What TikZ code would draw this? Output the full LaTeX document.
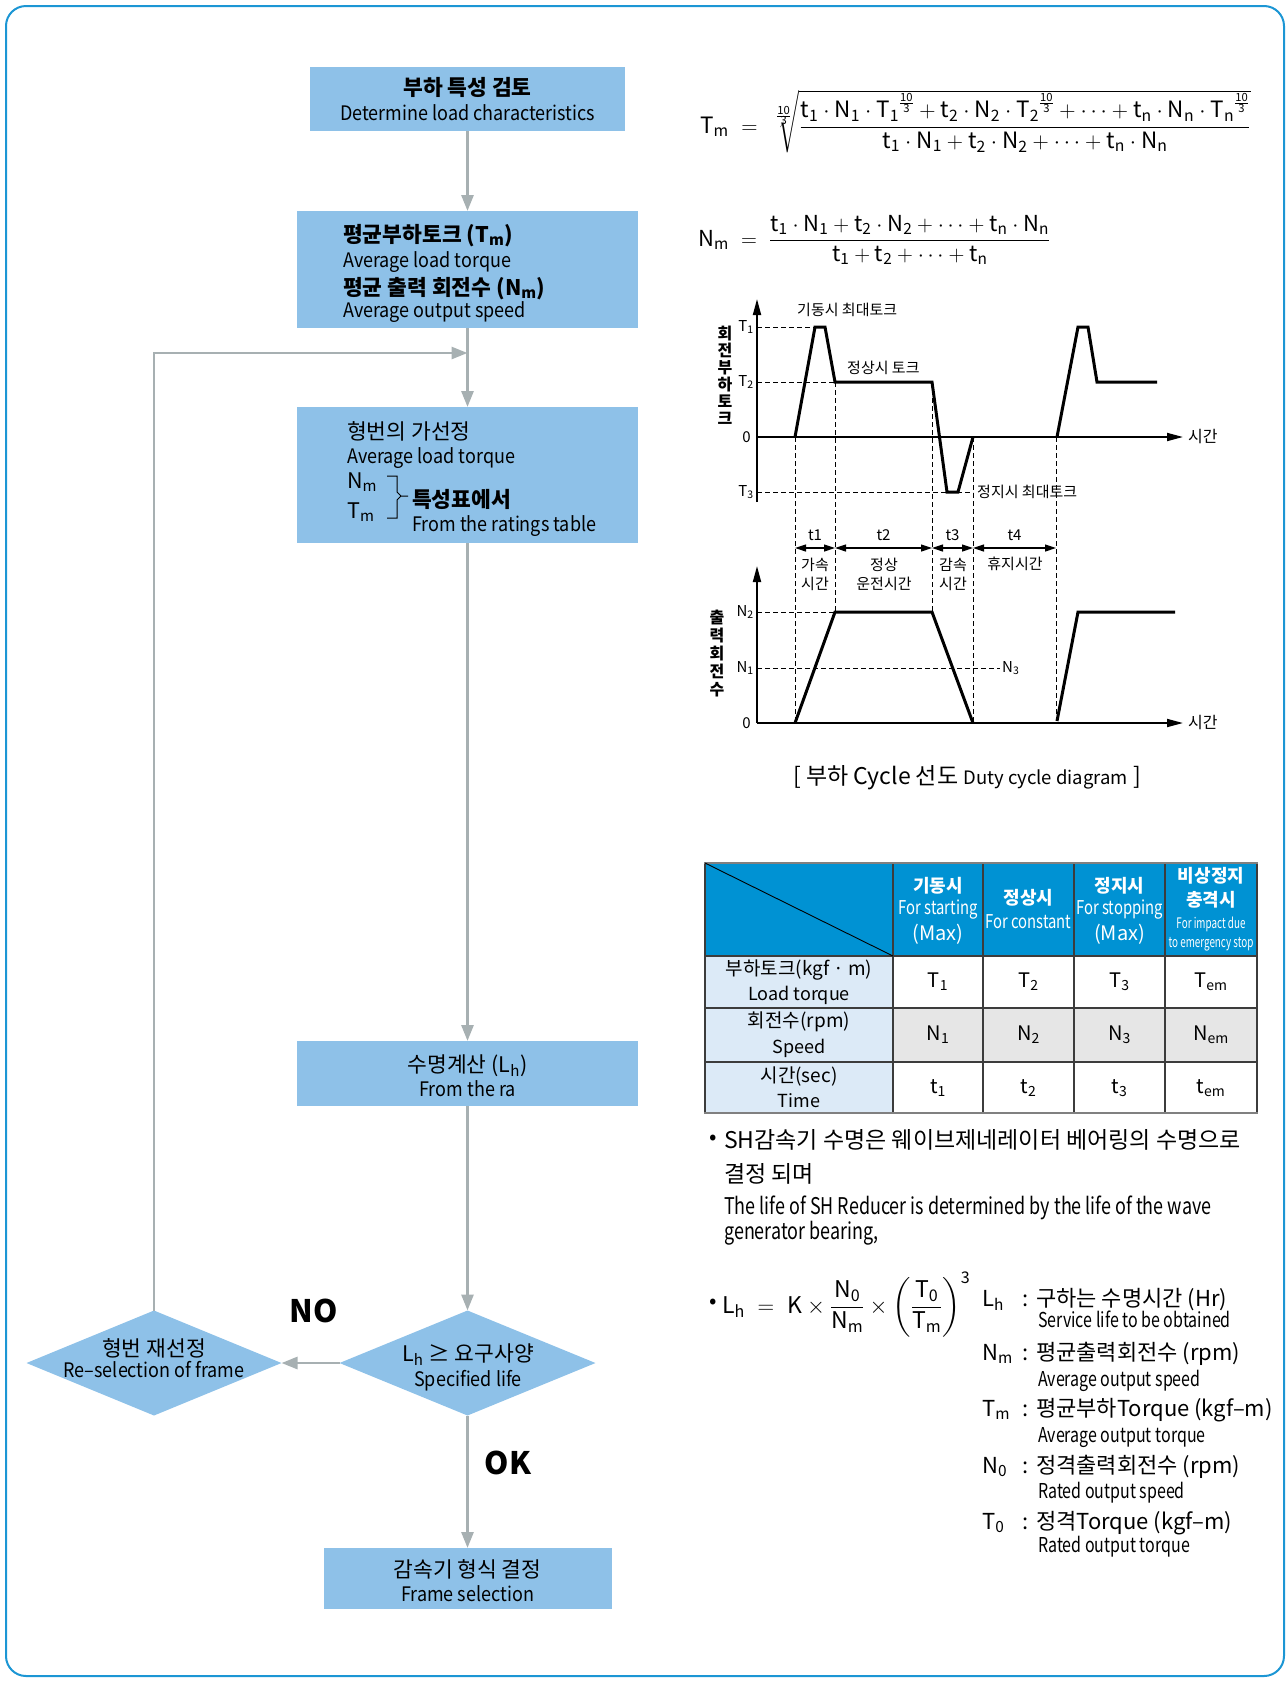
\documentclass[tikz,border=0pt]{standalone}
\usepackage{fix-cm}
\usepackage{amsmath}
\usepackage{fontspec}
\setmainfont{Noto Sans CJK KR}
\newfontfamily\mnar[FakeStretch=0.9]{Noto Sans CJK KR}
\newfontfamily\nar[FakeStretch=0.78]{Noto Sans CJK KR}
\newfontfamily\nnar[FakeStretch=0.68]{Noto Sans CJK KR}
\usetikzlibrary{positioning,arrows.meta,shapes.geometric,calc}
\definecolor{boxblue}{RGB}{142,193,232}
\definecolor{flowgray}{RGB}{167,176,178}
\definecolor{framecyan}{RGB}{28,150,212}
\definecolor{headblue}{RGB}{0,146,211}
\definecolor{rowblue}{RGB}{220,234,247}
\definecolor{rowgray}{RGB}{230,230,230}
\definecolor{gridgray}{RGB}{60,60,60}
\newcommand\fsz[1]{\fontsize{#1}{#1}\selectfont}
\newcommand\vsub[2]{\text{#1}_{\text{#2}}}
\newcommand\tenth{\frac{\text{10}}{\text{3}}}
\tikzset{
  flowbox/.style={rectangle, fill=boxblue, inner sep=0pt, outer sep=0pt},
  decision/.style={diamond, fill=boxblue, inner sep=0pt, outer sep=0pt},
  flowarrow/.style={draw=flowgray, line width=2.8pt, -{Triangle[length=16pt,width=12pt]}},
  ktitle/.style={font=\bfseries\fsz{21.5}, inner sep=0pt},
  kplain/.style={font=\fsz{21.5}, inner sep=0pt},
  etext/.style={font=\mnar\fsz{20}, inner sep=0pt},
  axisline/.style={line width=1.8pt, -{Triangle[length=16pt,width=8pt]}},
  curveline/.style={line width=3pt, line join=miter},
  guide/.style={line width=0.9pt, dash pattern=on 5pt off 3pt},
  span/.style={line width=1.2pt, {Triangle[length=11pt,width=7pt]}-{Triangle[length=11pt,width=7pt]}},
  glabel/.style={font=\fsz{15}, inner sep=0pt},
  cell/.style={font=\fsz{20}, inner sep=0pt},
  head/.style={text=white, inner sep=0pt}
}
\begin{document}
\begin{tikzpicture}[x=1pt,y=-1pt]
\useasboundingbox (0,0) rectangle (1287,1682);
\draw[framecyan, line width=2pt, rounded corners=20pt] (6,6) rectangle (1284,1676);

% flow chart
\node[flowbox, minimum width=315pt, minimum height=64pt] (load) at (467.5,99) {};
\node[flowbox, minimum width=341pt, minimum height=117pt] (avg) at (467.5,269.5) {};
\node[flowbox, minimum width=341pt, minimum height=136pt] (pre) at (467.5,475) {};
\node[flowbox, minimum width=341pt, minimum height=65pt] (life) at (467.5,1073.5) {};
\node[decision, minimum width=256pt, minimum height=105pt] (check) at (467.5,1363) {};
\node[decision, minimum width=255pt, minimum height=105pt] (resel) at (154,1363) {};
\node[flowbox, minimum width=288pt, minimum height=61pt] (frame) at (467.5,1578.5) {};
\coordinate (join) at (467.5,353);

\node[ktitle, anchor=base] at (467.5,95) {부하 특성 검토};
\node[etext, anchor=base] at (467.5,120) {Determine load characteristics};

\node[ktitle, anchor=base west] at (343,242) {평균부하토크 (T\textsubscript{m})};
\node[etext, anchor=base west] at (343,267) {Average load torque};
\node[ktitle, anchor=base west] at (343,295) {평균 출력 회전수 (N\textsubscript{m})};
\node[etext, anchor=base west] at (343,317) {Average output speed};

\node[kplain, anchor=base west] at (347,439) {형번의 가선정};
\node[etext, anchor=base west] at (347,463) {Average load torque};
\node[kplain, anchor=base west] at (347,488) {N\textsubscript{m}};
\node[kplain, anchor=base west] at (347,518) {T\textsubscript{m}};
\draw[line width=1pt] (387,476) -- (397,476) -- (397,492) -- (401,496) -- (397,500) -- (397,518) -- (387,518)
  (401,496) -- (408,496);
\node[ktitle, anchor=base west] at (412,507) {특성표에서};
\node[etext, anchor=base west] at (412,531) {From the ratings table};

\node[kplain, anchor=base] at (467.5,1072) {수명계산 (L\textsubscript{h})};
\node[etext, anchor=base] at (467.5,1096) {From the ra};
\node[kplain, anchor=base] at (468,1361) {L\textsubscript{h} ≥ 요구사양};
\node[etext, anchor=base] at (468,1386) {Specified life};
\node[kplain, anchor=base] at (154,1356) {형번 재선정};
\node[etext, anchor=base] at (154,1377) {Re–selection of frame};
\node[kplain, anchor=base] at (467.5,1577) {감속기 형식 결정};
\node[etext, anchor=base] at (467.5,1601) {Frame selection};
\node[font=\bfseries\fsz{31}, inner sep=0pt] at (314,1311) {NO};
\node[font=\bfseries\fsz{31}, inner sep=0pt] at (508,1463) {OK};

\draw[flowarrow] (load) -- (avg);
\draw[flowarrow] (avg) -- (pre);
\draw[flowarrow] (pre) -- (life);
\draw[flowarrow] (life) -- (check);
\draw[flowarrow] (check.west) -- (resel.east);
\draw[flowarrow] (check) -- (frame);
\draw[flowarrow] (resel.north) |- (join);

% formulas
\node[anchor=base west, inner sep=0pt, font=\fsz{22.5}] (tmf) at (700,133)
  {$\text{T}_{\text{m}} \;=\; \sqrt[\tenth]{\dfrac{\vsub{t}{1}\cdot\vsub{N}{1}\cdot{\vsub{T}{1}}^{\tenth} + \vsub{t}{2}\cdot\vsub{N}{2}\cdot{\vsub{T}{2}}^{\tenth} + \cdots + \vsub{t}{n}\cdot\vsub{N}{n}\cdot{\vsub{T}{n}}^{\tenth}}{\vsub{t}{1}\cdot\vsub{N}{1} + \vsub{t}{2}\cdot\vsub{N}{2} + \cdots + \vsub{t}{n}\cdot\vsub{N}{n}}}$};
\node[anchor=base west, inner sep=0pt, font=\fsz{22}] (nmf) at (698,246)
  {$\text{N}_{\text{m}} \;=\; \dfrac{\vsub{t}{1}\cdot\vsub{N}{1} + \vsub{t}{2}\cdot\vsub{N}{2} + \cdots + \vsub{t}{n}\cdot\vsub{N}{n}}{\vsub{t}{1} + \vsub{t}{2} + \cdots + \vsub{t}{n}}$};

% torque chart
\draw[axisline] (757,502) -- (757,299);
\draw[axisline] (757,437) -- (1183,437);
\draw[guide] (757,327) -- (815,327);
\draw[guide] (757,382) -- (835,382);
\draw[guide] (757,492) -- (973,492);
\foreach \x/\ya/\yb in {795/437/723, 835/382/612, 932/382/612, 973/437/723, 1056/437/721}
  \draw[guide] (\x,\ya) -- (\x,\yb);
\draw[curveline] (795,437) -- (815,327) -- (825,327) -- (835,382) -- (932,382) -- (947,492) -- (958,492) -- (973,437);
\draw[curveline] (1057,437) -- (1078,327) -- (1088,327) -- (1097,382) -- (1157,382);
\node[glabel, anchor=east] at (754,327) {T\textsubscript{1}};
\node[glabel, anchor=east] at (754,382) {T\textsubscript{2}};
\node[glabel, anchor=east] at (751,437) {0};
\node[glabel, anchor=east] at (754,492) {T\textsubscript{3}};
\node[glabel, anchor=west] at (797,310) {기동시 최대토크};
\node[glabel, anchor=west] at (847,368) {정상시 토크};
\node[glabel, anchor=west] at (977,492) {정지시 최대토크};
\node[glabel, anchor=west, font=\fsz{16}] at (1188,437) {시간};
\node[inner sep=0pt, align=center, font=\bfseries\fontsize{16}{17}\selectfont] at (725,375) {회\\전\\부\\하\\토\\크};

% time spans
\foreach \a/\b/\t in {795/835/t1, 835/932/t2, 932/973/t3, 973/1056/t4} {
  \draw[span] (\a,548) -- (\b,548);
  \node[glabel] at ({(\a+\b)/2},535) {\t};
}
\node[glabel] at (815,565) {가속};
\node[glabel] at (815,584) {시간};
\node[glabel] at (884,565) {정상};
\node[glabel] at (884,584) {운전시간};
\node[glabel] at (953,565) {감속};
\node[glabel] at (953,584) {시간};
\node[glabel] at (1015,564) {휴지시간};

% speed chart
\draw[axisline] (757,723) -- (757,566);
\draw[axisline] (757,723) -- (1183,723);
\draw[guide] (757,612) -- (835,612);
\draw[guide] (757,668) -- (1000,668);
\draw[curveline] (795,723) -- (835,612) -- (932,612) -- (973,723);
\draw[curveline] (1057,721) -- (1078,612) -- (1175,612);
\node[glabel, anchor=east] at (754,612) {N\textsubscript{2}};
\node[glabel, anchor=east] at (754,668) {N\textsubscript{1}};
\node[glabel, anchor=east] at (751,723) {0};
\node[glabel, anchor=west] at (1002,668) {N\textsubscript{3}};
\node[glabel, anchor=west, font=\fsz{16}] at (1188,723) {시간};
\node[inner sep=0pt, align=center, font=\bfseries\fontsize{16}{18}\selectfont] at (717,654) {출\\력\\회\\전\\수};
\node[inner sep=0pt, font=\fsz{23}] at (967,778) {[ 부하 Cycle 선도 {\fsz{18.5}Duty cycle diagram} ]};

% ratings table
\fill[headblue] (705,863) rectangle (1257,956);
\fill[rowblue] (705,956) rectangle (893,1113);
\fill[rowgray] (893,1008) rectangle (1257,1062);
\draw[gridgray, line width=1.4pt] (705,863) rectangle (1257,1113);
\foreach \x in {893,983,1074,1165} \draw[gridgray, line width=1.4pt] (\x,863) -- (\x,1113);
\foreach \y in {956,1008,1062} \draw[gridgray, line width=1.4pt] (705,\y) -- (1257,\y);
\draw[gray, line width=2.4pt] (704,863) -- (1258,863) (704,1113) -- (1258,1113);
\draw[black, line width=0.9pt] (705,863) -- (893,956);
\node[head, font=\bfseries\fsz{18}] at (938,886) {기동시};
\node[head, font=\nar\fsz{19}] at (938,909) {For starting};
\node[head, font=\fsz{20}] at (938,934) {(Max)};
\node[head, font=\bfseries\fsz{18}] at (1028.5,898) {정상시};
\node[head, font=\nar\fsz{19}] at (1028.5,922) {For constant};
\node[head, font=\bfseries\fsz{18}] at (1119.5,886) {정지시};
\node[head, font=\nar\fsz{19}] at (1119.5,909) {For stopping};
\node[head, font=\fsz{20}] at (1119.5,934) {(Max)};
\node[head, font=\bfseries\fsz{18}] at (1211,876) {비상정지};
\node[head, font=\bfseries\fsz{18}] at (1211,900) {충격시};
\node[head, font=\nnar\fsz{14.5}] at (1211,924) {For impact due};
\node[head, font=\nnar\fsz{14.5}] at (1211,944) {to emergency stop};
\node[cell, font=\fsz{19}] at (799,970) {부하토크(kgf · m)};
\node[cell, font=\fsz{18}] at (799,995) {Load torque};
\node[cell, font=\fsz{19}] at (799,1022) {회전수(rpm)};
\node[cell, font=\fsz{18}] at (799,1048) {Speed};
\node[cell, font=\fsz{19}] at (799,1076) {시간(sec)};
\node[cell, font=\fsz{18}] at (799,1101) {Time};
\foreach \x/\s in {938/1, 1028.5/2, 1119.5/3, 1211/em} {
  \node[cell] at (\x,982) {T\textsubscript{\s}};
  \node[cell] at (\x,1035) {N\textsubscript{\s}};
  \node[cell] at (\x,1088) {t\textsubscript{\s}};
}

% life note
\node[inner sep=0pt, font=\fsz{22}] at (713,1140) {•};
\node[inner sep=0pt, anchor=base west, font=\fsz{23}] at (724,1148) {SH감속기 수명은 웨이브제네레이터 베어링의 수명으로};
\node[inner sep=0pt, anchor=base west, font=\fsz{23}] at (724,1182) {결정 되며};
\node[inner sep=0pt, anchor=base west, font=\nar\fsz{23}] at (724,1214) {The life of SH Reducer is determined by the life of the wave};
\node[inner sep=0pt, anchor=base west, font=\nar\fsz{23}] at (724,1239) {generator bearing,};

% life formula
\node[inner sep=0pt, font=\fsz{22}] at (713,1304) {•};
\node[anchor=base west, inner sep=0pt, font=\fsz{23}] (lhf) at (722,1313)
  {$\text{L}_{\text{h}} \;=\; \text{K} \times \dfrac{\text{N}_{\text{0}}}{\text{N}_{\text{m}}} \times \left(\dfrac{\text{T}_{\text{0}}}{\text{T}_{\text{m}}}\right)^{\text{3}}$};
\foreach \yb/\ye/\sym/\ko/\en in {
  1306/1327/{L\textsubscript{h}}/{구하는 수명시간 (Hr)}/{Service life to be obtained},
  1360/1386/{N\textsubscript{m}}/{평균출력회전수 (rpm)}/{Average output speed},
  1416/1442/{T\textsubscript{m}}/{평균부하Torque (kgf–m)}/{Average output torque},
  1473/1498/{N\textsubscript{0}}/{정격출력회전수 (rpm)}/{Rated output speed},
  1529/1552/{T\textsubscript{0}}/{정격Torque (kgf–m)}/{Rated output torque}} {
  \node[inner sep=0pt, anchor=base west, font=\fsz{22}] at (982,\yb) {\sym};
  \node[inner sep=0pt, anchor=base west, font=\fsz{22}] at (1022,\yb) {:};
  \node[inner sep=0pt, anchor=base west, font=\fsz{22}] at (1036,\yb) {\ko};
  \node[inner sep=0pt, anchor=base west, font=\nar\fsz{20.5}] at (1038,\ye) {\en};
}
\end{tikzpicture}
\end{document}
